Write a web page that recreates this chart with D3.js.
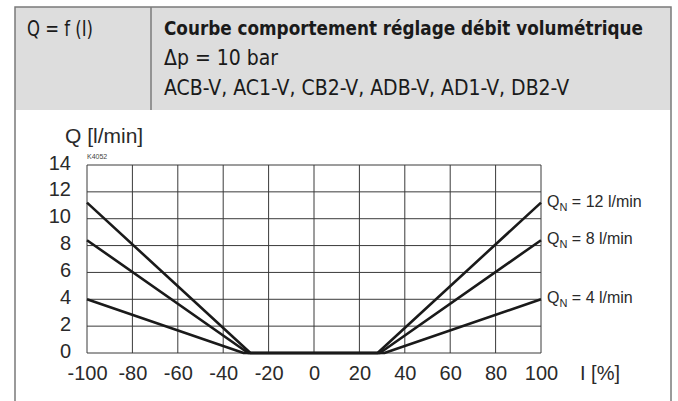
<!DOCTYPE html>
<html>
<head>
<meta charset="utf-8">
<script src="https://cdn.jsdelivr.net/npm/d3@7"></script>
<style>
  body { margin: 0; background: #fff; }
  svg { display: block; }
</style>
</head>
<body>
<div id="chart"></div>
<script>
// values
const xTicks = [-100, -80, -60, -40, -20, 0, 20, 40, 60, 80, 100]
const yTicks = [0, 2, 4, 6, 8, 10, 12, 14]
const seriesLabels = ['12 l/min', '8 l/min', '4 l/min']
const seriesQmax = [11.2, 8.4, 4.0]      // Q at I = ±100 %
const seriesDeadband = [28, 29, 31]       // |I| where Q leaves 0
const headerLines = ['Courbe comportement réglage débit volumétrique', 'Δp = 10 bar', 'ACB-V, AC1-V, CB2-V, ADB-V, AD1-V, DB2-V']

const W = 678, H = 401
const plot = {left: 87, right: 541, top: 165, bottom: 353}

const svg = d3.select('#chart').append('svg')
    .attr('width', W)
    .attr('height', H)

const font = '"Liberation Sans", Arial, sans-serif'
const narrow = '"Liberation Sans Narrow", "DejaVu Sans Condensed", "Liberation Sans", Arial, sans-serif'

// header box
svg.append('rect')
    .attr('x', 15).attr('y', 7)
    .attr('width', 656).attr('height', 103)
    .attr('fill', '#dddddd')

svg.append('rect')
    .attr('x', 15).attr('y', 7)
    .attr('width', 656).attr('height', 420)
    .attr('fill', 'none')
    .attr('stroke', '#7a7a7a')
    .attr('stroke-width', 1.5)

svg.append('line')
    .attr('x1', 151).attr('x2', 151)
    .attr('y1', 7).attr('y2', 110)
    .attr('stroke', '#7a7a7a')
    .attr('stroke-width', 1.5)

// header text, only squeezed if wider than in the original
function fitText (sel, width) {
  sel.each(function () {
    const w = this.getComputedTextLength()
    if (w > width + 1) {
      d3.select(this).attr('textLength', width).attr('lengthAdjust', 'spacingAndGlyphs')
    }
  })
}

svg.append('text')
    .attr('x', 27).attr('y', 36)
    .style('font-family', narrow)
    .style('font-size', '21px')
    .attr('fill', '#1a1a1a')
    .text('Q = f (I)')
    .call(fitText, 66)

const headerWidths = [479, 135, 415]
const headerSizes = [20, 21, 21]
headerLines.forEach((t, i) => {
  svg.append('text')
      .attr('x', 164).attr('y', 35 + i * 30)
      .style('font-family', narrow)
      .style('font-size', headerSizes[i] + 'px')
      .style('font-weight', i === 0 ? 'bold' : 'normal')
      .attr('fill', '#1a1a1a')
      .text(t)
      .call(fitText, headerWidths[i])
})

// scales
const x = d3.scaleLinear().domain([-100, 100]).range([plot.left, plot.right])
const y = d3.scaleLinear().domain([0, 14]).range([plot.bottom, plot.top])

const g = svg.append('g')

// grid
g.selectAll('.vgrid')
    .data(xTicks)
  .enter().append('line')
    .attr('class', 'vgrid')
    .attr('x1', d => x(d)).attr('x2', d => x(d))
    .attr('y1', y(14)).attr('y2', y(0))
    .attr('stroke', '#3a3a3a')
    .attr('stroke-width', 1)

g.selectAll('.hgrid')
    .data(yTicks)
  .enter().append('line')
    .attr('class', 'hgrid')
    .attr('x1', x(-100)).attr('x2', x(100))
    .attr('y1', d => y(d)).attr('y2', d => y(d))
    .attr('stroke', '#3a3a3a')
    .attr('stroke-width', 1)

// axes (labels only), plain hyphen minus like the original
const yAxis = d3.axisLeft(y).tickValues(yTicks).tickSize(0).tickPadding(16).tickFormat(d => String(d))
const xAxis = d3.axisBottom(x).tickValues(xTicks).tickSize(0).tickPadding(0).tickFormat(d => String(d))

const ya = svg.append('g')
    .attr('transform', 'translate(' + plot.left + ',0)')
    .call(yAxis)
ya.select('.domain').remove()
ya.selectAll('text')
    .attr('dy', null)
    .attr('y', 4)
    .style('font-family', font)
    .style('font-size', '20px')
    .attr('fill', '#2a2a2a')

const xa = svg.append('g')
    .attr('transform', 'translate(0,' + plot.bottom + ')')
    .call(xAxis)
xa.select('.domain').remove()
xa.selectAll('text')
    .attr('dy', null)
    .attr('y', 27)
    .style('font-family', font)
    .style('font-size', '20px')
    .attr('fill', '#2a2a2a')

// axis titles
svg.append('text')
    .attr('x', 65).attr('y', 143)
    .style('font-family', font)
    .style('font-size', '21px')
    .attr('fill', '#2a2a2a')
    .text('Q [l/min]')

svg.append('text')
    .attr('x', 580).attr('y', 380)
    .style('font-family', font)
    .style('font-size', '20px')
    .attr('fill', '#2a2a2a')
    .text('I [%]')

svg.append('text')
    .attr('x', 87).attr('y', 159)
    .style('font-family', font)
    .style('font-size', '7px')
    .attr('fill', '#444')
    .text('K4052')

// curves
const line = d3.line().x(d => x(d[0])).y(d => y(d[1]))

const series = seriesQmax.map((q, i) => [
  [-100, q], [-seriesDeadband[i], 0], [seriesDeadband[i], 0], [100, q]
])

g.selectAll('.curve')
    .data(series)
  .enter().append('path')
    .attr('class', 'curve')
    .attr('d', line)
    .attr('fill', 'none')
    .attr('stroke', '#1a1a1a')
    .attr('stroke-width', 2.6)
    .attr('stroke-linejoin', 'round')

// curve labels
const lab = svg.selectAll('.qlabel')
    .data(seriesQmax)
  .enter().append('text')
    .attr('class', 'qlabel')
    .attr('x', x(100) + 6)
    .attr('y', d => y(d) + 4)
    .style('font-family', font)
    .style('font-size', '16px')
    .attr('fill', '#2a2a2a')

lab.append('tspan').text('Q')
lab.append('tspan').attr('dy', 4).style('font-size', '11px').text('N')
lab.append('tspan').attr('dy', -4).text((d, i) => ' = ' + seriesLabels[i])
</script>
</body>
</html>
